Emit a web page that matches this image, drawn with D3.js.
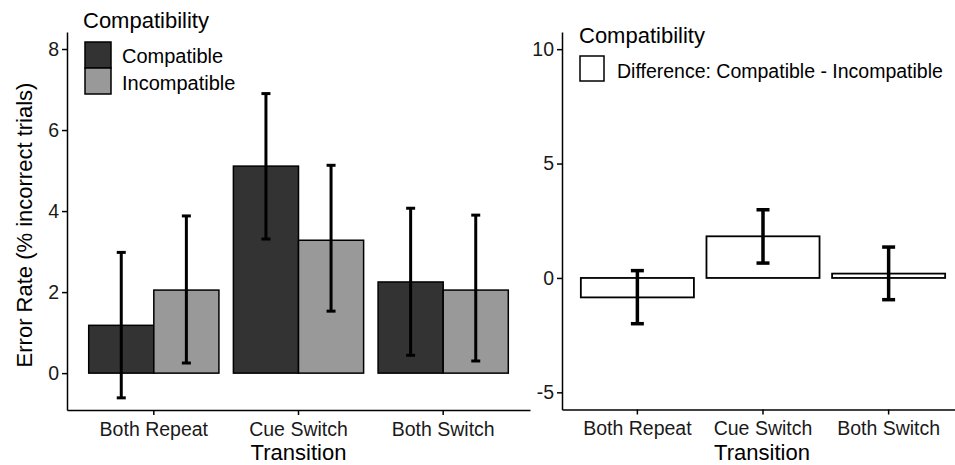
<!DOCTYPE html>
<html>
<head>
<meta charset="utf-8">
<script src="https://cdn.jsdelivr.net/npm/d3@7"></script>
<style>
  body { margin: 0; background: #fff; }
  svg { font-family: "Liberation Sans", Arial, sans-serif; }
</style>
</head>
<body>
<svg id="chart"></svg>
<script>
const transitions = ['Both Repeat', 'Cue Switch', 'Both Switch'];
const groups = ['Compatible', 'Incompatible'];

const compatibleMean = [1.18, 5.11, 2.25];
const compatibleLow = [-0.61, 3.31, 0.44];
const compatibleHigh = [2.98, 6.90, 4.07];

const incompatibleMean = [2.05, 3.28, 2.05];
const incompatibleLow = [0.25, 1.53, 0.30];
const incompatibleHigh = [3.88, 5.13, 3.90];

const diffMean = [-0.85, 1.82, 0.19];
const diffLow = [-2.00, 0.65, -0.95];
const diffHigh = [0.32, 2.98, 1.35];

const leftTicks = [0, 2, 4, 6, 8];
const rightTicks = [-5, 0, 5, 10];

const fills = {Compatible: '#333333', Incompatible: '#999999'};

const available = {width: 955, height: 465};

const svg = d3.select('#chart')
  .attr('width', available.width)
  .attr('height', available.height);

// build rows for the left panel
const leftRows = [];
transitions.forEach(function(t, i) {
  leftRows.push({transition: t, group: 'Compatible', mean: compatibleMean[i], low: compatibleLow[i], high: compatibleHigh[i]});
  leftRows.push({transition: t, group: 'Incompatible', mean: incompatibleMean[i], low: incompatibleLow[i], high: incompatibleHigh[i]});
});
const rightRows = transitions.map(function(t, i) {
  return {transition: t, mean: diffMean[i], low: diffLow[i], high: diffHigh[i]};
});

function styleAxis(g) {
  g.selectAll('.domain').attr('stroke', '#000').attr('stroke-width', 1.5);
  g.selectAll('.tick line').attr('stroke', '#000').attr('stroke-width', 1.5);
  g.selectAll('.tick text').attr('fill', '#1a1a1a').style('font-size', '19.5px');
}

// plain hyphen for negatives, like the original
const plain = function(d) { return String(d); };

// ---------- left panel ----------
const L = {left: 67, right: 530, top: 32, bottom: 410};

const xL = d3.scaleBand().domain(transitions).range([L.left, L.right]).paddingInner(0).paddingOuter(0.1);
const subL = d3.scaleBand().domain(groups).range([xL.bandwidth() * 0.05, xL.bandwidth() * 0.95]);
const yL = d3.scaleLinear().domain([-0.91, 8.42]).range([L.bottom, L.top]);

const leftG = svg.append('g').attr('class', 'left');

leftG.selectAll('rect.bar')
  .data(leftRows)
  .enter()
  .append('rect')
  .attr('class', 'bar')
  .attr('x', function(d) { return xL(d.transition) + subL(d.group); })
  .attr('width', subL.bandwidth())
  .attr('y', function(d) { return yL(Math.max(0, d.mean)); })
  .attr('height', function(d) { return Math.abs(yL(d.mean) - yL(0)); })
  .attr('fill', function(d) { return fills[d.group]; })
  .attr('stroke', '#000')
  .attr('stroke-width', 1.5);

function errorBars(g, rows, xPos, y, cap, lw) {
  const eg = g.selectAll('g.err').data(rows).enter().append('g').attr('class', 'err')
    .attr('stroke', '#000').attr('stroke-width', lw);
  eg.append('line')
    .attr('x1', xPos).attr('x2', xPos)
    .attr('y1', function(d) { return y(d.low); })
    .attr('y2', function(d) { return y(d.high); });
  eg.append('line')
    .attr('x1', function(d) { return xPos(d) - cap / 2; })
    .attr('x2', function(d) { return xPos(d) + cap / 2; })
    .attr('y1', function(d) { return y(d.high); })
    .attr('y2', function(d) { return y(d.high); });
  eg.append('line')
    .attr('x1', function(d) { return xPos(d) - cap / 2; })
    .attr('x2', function(d) { return xPos(d) + cap / 2; })
    .attr('y1', function(d) { return y(d.low); })
    .attr('y2', function(d) { return y(d.low); });
}

errorBars(leftG, leftRows, function(d) { return xL(d.transition) + subL(d.group) + subL.bandwidth() / 2; }, yL, 9, 3);

leftG.append('g')
  .attr('transform', `translate(0, ${L.bottom})`)
  .call(d3.axisBottom(xL).tickSize(5).tickSizeOuter(0).tickPadding(7))
  .call(styleAxis);

leftG.append('g')
  .attr('transform', `translate(${L.left}, 0)`)
  .call(d3.axisLeft(yL).tickValues(leftTicks).tickFormat(plain).tickSize(5).tickSizeOuter(0).tickPadding(3))
  .call(styleAxis);

leftG.append('text')
  .attr('x', (L.left + L.right) / 2)
  .attr('y', 460)
  .attr('text-anchor', 'middle')
  .style('font-size', '22px')
  .text('Transition');

leftG.append('text')
  .attr('transform', 'translate(32, 225) rotate(-90)')
  .attr('text-anchor', 'middle')
  .style('font-size', '22px')
  .text('Error Rate (% incorrect trials)');

// left legend
const legL = leftG.append('g').attr('transform', 'translate(84, 0)');
legL.append('text').attr('x', -1).attr('y', 28).style('font-size', '22px').text('Compatibility');
groups.forEach(function(g, i) {
  legL.append('rect')
    .attr('x', 1).attr('y', 42 + i * 26)
    .attr('width', 26).attr('height', 26)
    .attr('fill', fills[g]).attr('stroke', '#000').attr('stroke-width', 1.5);
  legL.append('text')
    .attr('x', 38).attr('y', 63 + i * 27)
    .style('font-size', '20px')
    .text(g);
});

// ---------- right panel ----------
const R = {left: 562, right: 964, top: 32, bottom: 409.5};

const xR = d3.scaleBand().domain(transitions).range([R.left, R.right]).paddingInner(0).paddingOuter(0.1);
const yR = d3.scaleLinear().domain([-5.75, 10.75]).range([R.bottom, R.top]);

const rightG = svg.append('g').attr('class', 'right');

rightG.selectAll('rect.bar')
  .data(rightRows)
  .enter()
  .append('rect')
  .attr('class', 'bar')
  .attr('x', function(d) { return xR(d.transition) + xR.bandwidth() * 0.05; })
  .attr('width', xR.bandwidth() * 0.9)
  .attr('y', function(d) { return yR(Math.max(0, d.mean)); })
  .attr('height', function(d) { return Math.abs(yR(d.mean) - yR(0)); })
  .attr('fill', '#fff')
  .attr('stroke', '#000')
  .attr('stroke-width', 1.8);

errorBars(rightG, rightRows, function(d) { return xR(d.transition) + xR.bandwidth() / 2; }, yR, 13, 3.5);

rightG.append('g')
  .attr('transform', `translate(0, ${R.bottom})`)
  .call(d3.axisBottom(xR).tickSize(5).tickSizeOuter(0).tickPadding(7))
  .call(styleAxis);

rightG.append('g')
  .attr('transform', `translate(${R.left}, 0)`)
  .call(d3.axisLeft(yR).tickValues(rightTicks).tickFormat(plain).tickSize(5).tickSizeOuter(0).tickPadding(3))
  .call(styleAxis);

rightG.append('text')
  .attr('x', 762)
  .attr('y', 460)
  .attr('text-anchor', 'middle')
  .style('font-size', '22px')
  .text('Transition');

// right legend
const legR = rightG.append('g').attr('transform', 'translate(579, 0)');
legR.append('text').attr('x', 0).attr('y', 43).style('font-size', '22px').text('Compatibility');
legR.append('rect')
  .attr('x', 1).attr('y', 56)
  .attr('width', 24).attr('height', 25)
  .attr('fill', '#fff').attr('stroke', '#000').attr('stroke-width', 1.5);
legR.append('text')
  .attr('x', 38).attr('y', 78)
  .style('font-size', '19.5px')
  .text('Difference: Compatible - Incompatible');
</script>
</body>
</html>
